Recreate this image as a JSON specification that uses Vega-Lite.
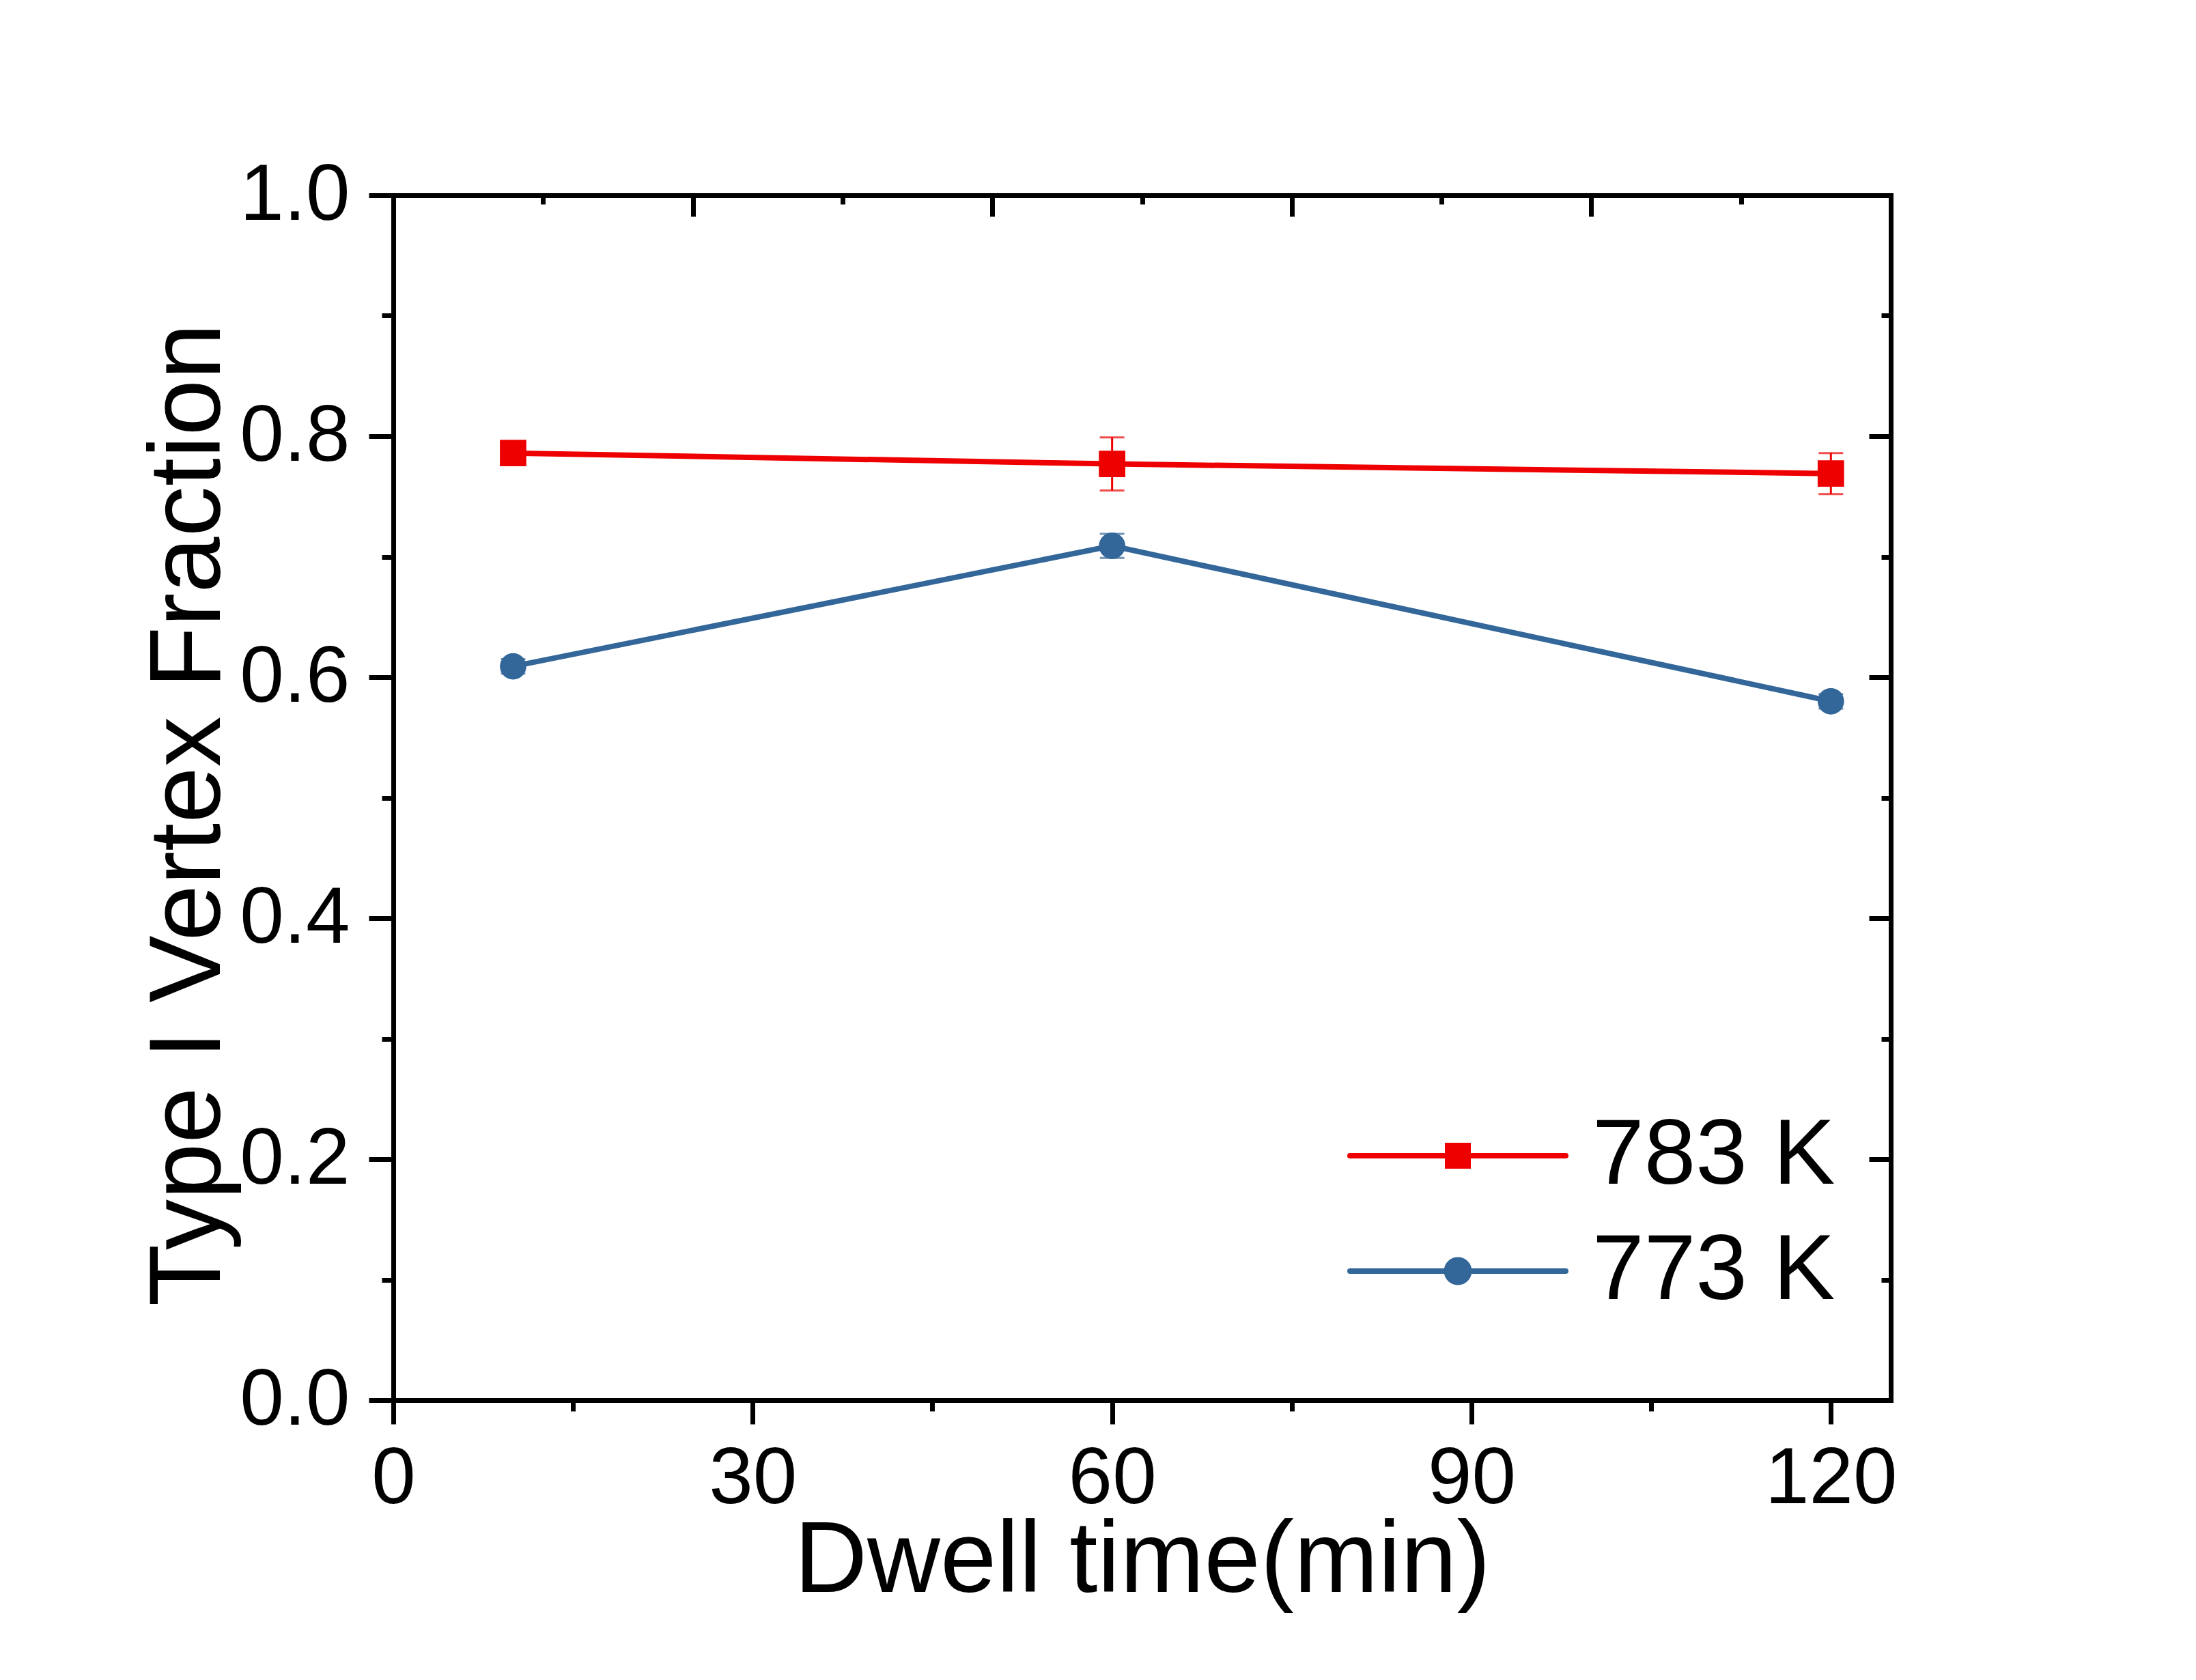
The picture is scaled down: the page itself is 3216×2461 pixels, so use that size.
{
  "$schema": "https://vega.github.io/schema/vega-lite/v6.json",
  "background": "white",
  "autosize": {"type": "none"},
  "padding": {"left": 576, "top": 286, "right": 447, "bottom": 410},
  "width": 2193,
  "height": 1765,
  "data": {
    "values": [
      {"t": 10, "series": "783 K", "v": 0.786, "lo": 0.777, "hi": 0.795},
      {"t": 60, "series": "783 K", "v": 0.777, "lo": 0.755, "hi": 0.799},
      {"t": 120, "series": "783 K", "v": 0.769, "lo": 0.752, "hi": 0.786},
      {"t": 10, "series": "773 K", "v": 0.609, "lo": 0.603, "hi": 0.615},
      {"t": 60, "series": "773 K", "v": 0.709, "lo": 0.699, "hi": 0.719},
      {"t": 120, "series": "773 K", "v": 0.58, "lo": 0.574, "hi": 0.586}
    ]
  },
  "layer": [
    {
      "mark": {"type": "line", "strokeWidth": 8},
      "encoding": {
        "x": {
          "field": "t", "type": "quantitative",
          "scale": {"domain": [0, 125], "nice": false, "zero": false},
          "axis": {
            "orient": "bottom", "values": [0, 30, 60, 90, 120], "tickSize": 35,
            "labelPadding": 23, "labelFontSize": 116, "format": "d",
            "title": "Dwell time(min)", "titleBaseline": "alphabetic", "titleY": 280
          }
        },
        "y": {
          "field": "v", "type": "quantitative",
          "scale": {"domain": [0, 1], "nice": false, "zero": false},
          "axis": {
            "orient": "left", "values": [0, 0.2, 0.4, 0.6, 0.8, 1.0], "tickSize": 36,
            "labelPadding": 28, "labelFontSize": 116, "format": ".1f",
            "title": "Type I Vertex Fraction", "titleAngle": 270, "titleBaseline": "alphabetic",
            "titleAlign": "center", "titleX": -255, "titleY": 907
          }
        },
        "color": {
          "field": "series", "type": "nominal",
          "scale": {"domain": ["783 K", "773 K"], "range": ["#EE0000", "#336699"]},
          "legend": {
            "title": null,
            "orient": "none",
            "legendX": 1397,
            "legendY": 1332,
            "padding": 0,
            "symbolSize": 99856,
            "symbolStrokeWidth": 8,
            "labelOffset": 35,
            "labelFontSize": 136,
            "labelFont": "Liberation Sans",
            "labelColor": "black",
            "labelLimit": 0,
            "clipHeight": 150,
            "rowPadding": 19,
            "encode": {
              "symbols": {
                "update": {
                  "shape": {"signal": "datum.value === '783 K' ? 'M-1,0L1,0M-0.095,-0.095L0.095,-0.095L0.095,0.095L-0.095,0.095Z' : 'M-1,0L1,0M-0.104,0A0.104,0.104,0,1,0,0.104,0A0.104,0.104,0,1,0,-0.104,0Z'"},
                  "fill": {"signal": "datum.value === '783 K' ? '#EE0000' : '#336699'"},
                  "stroke": {"signal": "datum.value === '783 K' ? '#EE0000' : '#336699'"},
                  "strokeWidth": {"value": 8},
                  "strokeCap": {"value": "round"},
                  "strokeJoin": {"value": "miter"},
                  "size": {"value": 99856},
                  "opacity": {"value": 1},
                  "fillOpacity": {"value": 1},
                  "strokeOpacity": {"value": 1}
                }
              }
            }
          }
        }
      }
    },
    {
      "mark": {"type": "rule", "strokeWidth": 3},
      "encoding": {
        "x": {
          "field": "t", "type": "quantitative",
          "axis": {"orient": "bottom", "values": [15, 45, 75, 105], "tickSize": 16, "labels": false, "domain": false, "title": null}
        },
        "y": {
          "field": "lo", "type": "quantitative",
          "axis": {"orient": "left", "values": [0.1, 0.3, 0.5, 0.7, 0.9], "tickSize": 17, "labels": false, "domain": false, "title": null}
        },
        "y2": {"field": "hi"},
        "color": {"field": "series", "type": "nominal", "legend": null}
      }
    },
    {
      "mark": {"type": "tick", "orient": "horizontal", "size": 36, "thickness": 3},
      "encoding": {
        "x": {
          "field": "t", "type": "quantitative",
          "axis": {"orient": "top", "values": [0, 25, 50, 75, 100, 125], "tickSize": -31, "labels": false, "title": null}
        },
        "y": {
          "field": "lo", "type": "quantitative",
          "axis": {"orient": "right", "values": [0, 0.2, 0.4, 0.6, 0.8, 1.0], "tickSize": -32, "labels": false, "title": null}
        },
        "color": {"field": "series", "type": "nominal", "legend": null}
      }
    },
    {
      "mark": {"type": "tick", "orient": "horizontal", "size": 36, "thickness": 3},
      "encoding": {
        "x": {
          "field": "t", "type": "quantitative",
          "axis": {"orient": "top", "values": [12.5, 37.5, 62.5, 87.5, 112.5], "tickSize": -13, "labels": false, "domain": false, "title": null}
        },
        "y": {
          "field": "hi", "type": "quantitative",
          "axis": {"orient": "right", "values": [0.1, 0.3, 0.5, 0.7, 0.9], "tickSize": -14, "labels": false, "domain": false, "title": null}
        },
        "color": {"field": "series", "type": "nominal", "legend": null}
      }
    },
    {
      "mark": {"type": "point", "filled": true, "size": 1500, "opacity": 1},
      "encoding": {
        "x": {"field": "t", "type": "quantitative", "axis": null},
        "y": {"field": "v", "type": "quantitative", "axis": null},
        "shape": {
          "field": "series", "type": "nominal",
          "scale": {"domain": ["783 K", "773 K"], "range": ["square", "circle"]},
          "legend": null
        },
        "color": {"field": "series", "type": "nominal", "legend": null}
      }
    }
  ],
  "resolve": {
    "axis": {"x": "independent", "y": "independent"},
    "legend": {"color": "independent", "shape": "independent"}
  },
  "config": {
    "view": {"stroke": null},
    "axis": {
      "grid": false,
      "domainColor": "black",
      "domainWidth": 7,
      "domainCap": "square",
      "tickColor": "black",
      "tickWidth": 7,
      "labelFont": "Liberation Sans",
      "labelColor": "black",
      "labelFlush": false,
      "labelOverlap": false,
      "labelBound": false,
      "labelLimit": 0,
      "titleFont": "Liberation Sans",
      "titleFontSize": 148,
      "titleFontWeight": "normal",
      "titleColor": "black"
    }
  }
}
